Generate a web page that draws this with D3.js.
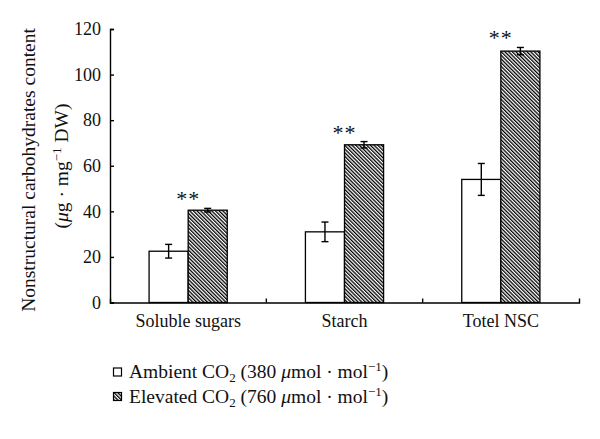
<!DOCTYPE html>
<html><head><meta charset="utf-8">
<script src="https://cdn.jsdelivr.net/npm/d3@7"></script>
<style>body{margin:0;background:#fff}svg{display:block}text{font-family:"Liberation Serif","Times New Roman",serif;fill:#111}</style>
</head><body><div id="chart"></div>
<script>
const categories = ["Soluble sugars", "Starch", "Totel NSC"];
const ambient = [22.5, 31, 54];
const ambientErr = [3, 4.3, 7];
const elevated = [40.5, 69.2, 110.3];
const elevatedErr = [0.8, 1.4, 1.6];
const significance = ["**", "**", "**"];
const yTicks = [0, 20, 40, 60, 80, 100, 120];

const W = 600, H = 439;
const svg = d3.select("#chart").append("svg").attr("width", W).attr("height", H);
const defs = svg.append("defs");
const pat = defs.append("pattern").attr("id", "hatch").attr("patternUnits", "userSpaceOnUse")
  .attr("width", 2.6).attr("height", 2.6).attr("patternTransform", "rotate(-45)");
pat.append("rect").attr("width", 2.6).attr("height", 2.6).attr("fill", "#fff");
pat.append("line").attr("x1", 0.65).attr("y1", 0).attr("x2", 0.65).attr("y2", 2.6)
  .attr("stroke", "#000").attr("stroke-width", 1.3);

const x = d3.scaleBand().domain(categories).range([110, 579]).padding(0);
const y = d3.scaleLinear().domain([0, 120]).range([302.5, 29]);
const bw = x.bandwidth() * 0.25;

// bars
const g = svg.append("g");
categories.forEach((c, i) => {
  const cx = x(c) + x.bandwidth() / 2;
  g.append("rect").attr("x", cx - bw).attr("y", y(ambient[i])).attr("width", bw)
    .attr("height", y(0) - y(ambient[i])).attr("fill", "#fff").attr("stroke", "#000").attr("stroke-width", 1.3);
  g.append("rect").attr("x", cx).attr("y", y(elevated[i])).attr("width", bw)
    .attr("height", y(0) - y(elevated[i])).attr("fill", "url(#hatch)").attr("stroke", "#000").attr("stroke-width", 1.3);
  const eb = (xc, v, e) => {
    g.append("line").attr("x1", xc).attr("x2", xc).attr("y1", y(v + e)).attr("y2", y(v - e)).attr("stroke", "#000").attr("stroke-width", 1.4);
    [v + e, v - e].forEach(t => g.append("line").attr("x1", xc - 3.5).attr("x2", xc + 3.5)
      .attr("y1", y(t)).attr("y2", y(t)).attr("stroke", "#000").attr("stroke-width", 1.4));
  };
  eb(cx - bw / 2, ambient[i], ambientErr[i]);
  eb(cx + bw / 2, elevated[i], elevatedErr[i]);
  g.append("text").attr("x", cx).attr("y", y(elevated[i] + elevatedErr[i]) - 2)
    .attr("text-anchor", "middle").style("font-size", "22px").style("letter-spacing", "1px")
    .attr("fill", "#333").text(significance[i]);
});

// y axis
const ya = svg.append("g").attr("transform", "translate(110,0)")
  .call(d3.axisLeft(y).tickValues(yTicks).tickSizeInner(-4).tickSizeOuter(-4).tickPadding(9));
ya.select(".domain").attr("stroke-width", 1.4);
ya.selectAll(".tick line").attr("stroke-width", 1.4);
ya.selectAll("text").style("font-size", "18px").attr("fill", "#111");

// x axis
const xa = svg.append("g").attr("transform", `translate(0,${y(0)})`)
  .call(d3.axisBottom(x).tickSizeInner(0).tickSizeOuter(-4).tickPadding(12));
xa.select(".domain").attr("stroke-width", 1.4);
xa.selectAll("text").style("font-size", "18px").attr("fill", "#111");
categories.slice(1).forEach(c => {
  xa.append("line").attr("x1", x(c)).attr("x2", x(c)).attr("y1", 0).attr("y2", -4)
    .attr("stroke", "#000").attr("stroke-width", 1.4);
});

// y title
svg.append("text").attr("transform", "translate(35,170) rotate(-90)")
  .attr("text-anchor", "middle").style("font-size", "19.5px").text("Nonstructural carbohydrates content");
const yt2 = svg.append("text").attr("transform", "translate(68,166) rotate(-90)")
  .attr("text-anchor", "middle").style("font-size", "19.5px");
yt2.append("tspan").text("(");
yt2.append("tspan").style("font-style", "italic").text("μ");
yt2.append("tspan").text("g · mg");
yt2.append("tspan").attr("dy", -7).style("font-size", "13px").text("−1");
yt2.append("tspan").attr("dy", 7).text(" DW)");

// legend
const legendItems = [
  {fill: "#fff", label: "Ambient CO", conc: "380"},
  {fill: "url(#hatch)", label: "Elevated CO", conc: "760"}
];
legendItems.forEach((d, i) => {
  const cy = 372 + i * 24.5;
  svg.append("rect").attr("x", 113.5).attr("y", cy - 4).attr("width", 8).attr("height", 8)
    .attr("fill", d.fill).attr("stroke", "#000").attr("stroke-width", 1.2);
  const t = svg.append("text").attr("x", 129).attr("y", cy + 6).style("font-size", "19.5px");
  t.append("tspan").text(d.label);
  t.append("tspan").attr("dy", 4).style("font-size", "13px").text("2");
  t.append("tspan").attr("dy", -4).text(` (${d.conc} `);
  t.append("tspan").style("font-style", "italic").text("μ");
  t.append("tspan").text("mol · mol");
  t.append("tspan").attr("dy", -7).style("font-size", "13px").text("−1");
  t.append("tspan").attr("dy", 7).text(")");
});
</script></body></html>
